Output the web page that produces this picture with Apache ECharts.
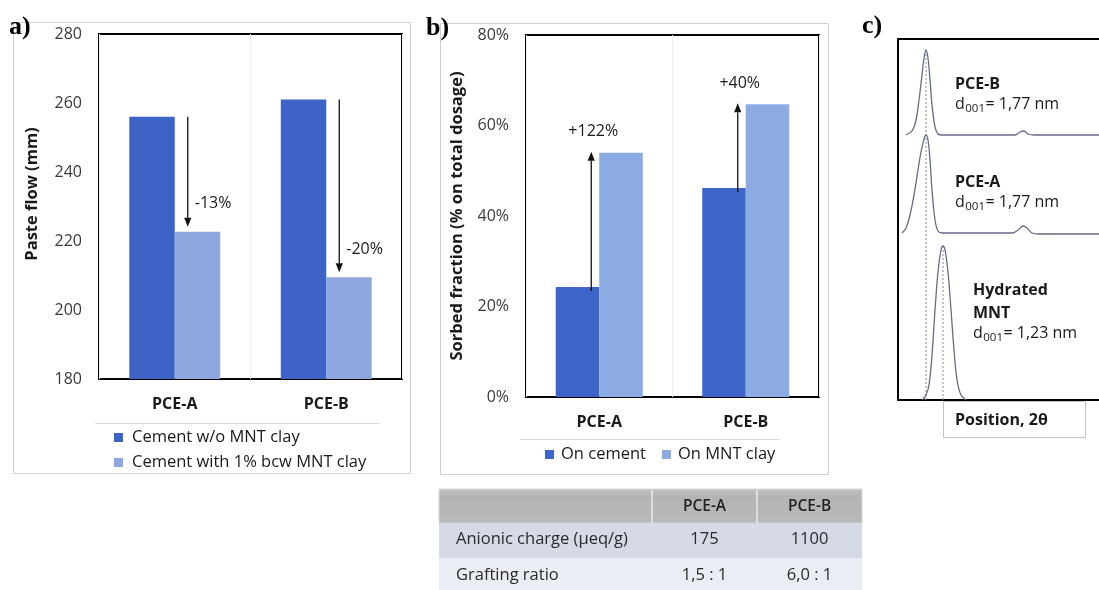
<!DOCTYPE html>
<html>
<head>
<meta charset="utf-8">
<script src="https://cdn.jsdelivr.net/npm/echarts@6/dist/echarts.min.js"></script>
<style>
  html, body { margin: 0; padding: 0; background: #fff; }
  #chart { width: 1099px; height: 590px; }
</style>
</head>
<body>
<div id="chart"></div>
<script>
// ---------- data ----------
const categories = ['PCE-A', 'PCE-B'];

// a) paste flow, mm
const flowTickLabels = [180, 200, 220, 240, 260, 280];
const flowWithoutClay = [256, 261];
const flowWithClay = [222.7, 209.5];

// b) sorbed fraction, % of total dosage
const sorbedTickLabels = [0, 20, 40, 60, 80];
const sorbedOnCement = [24.3, 46.2];
const sorbedOnClay = [54.0, 64.7];

// polymer properties table
const tableColumns = ['', 'PCE-A', 'PCE-B'];
const tableRowLabels = ['Anionic charge (µeq/g)', 'Grafting ratio'];
const anionicCharge = ['175', '1100'];
const graftingRatio = ['1,5 : 1', '6,0 : 1'];

// c) XRD patterns (position, intensity), stacked traces
const xrdPceB = [[8, 265], [14, 269], [18, 280], [21, 300], [24, 325], [26, 342], [28, 350], [30, 342],
  [32, 320], [34, 295], [37, 273], [40, 266], [44, 265], [117, 265], [122, 268], [126, 269], [130, 266],
  [136, 265], [225, 265]];
const xrdPceA = [[4, 167], [8, 172], [12, 185], [16, 205], [20, 230], [23, 248], [26, 261], [28, 265],
  [30, 260], [32, 240], [34, 210], [37, 180], [40, 169], [44, 167], [114, 167], [120, 170], [125, 174],
  [129, 172], [134, 167], [140, 166], [225, 166]];
const xrdMnt = [[24, 0], [28, 5], [31, 15], [34, 45], [37, 90], [40, 128], [43, 150], [45, 154], [47, 150],
  [50, 128], [53, 90], [56, 50], [59, 20], [63, 5], [68, 0]];
const xrdPeakPce = 28;
const xrdPeakMnt = 45;
const xrdSamples = [['PCE-B'], ['PCE-A'], ['Hydrated', 'MNT']];
const xrdD001 = ['1,77', '1,77', '1,23'];

// ---------- styling ----------
const FONT = '"Open Sans", Lato, sans-serif';
const SERIF = '"Liberation Serif", "DejaVu Serif", serif';
const INK = '#1a1a1a';
const TICK = '#3a3a3a';
const DARK_A = '#3e63c6';
const LIGHT_A = '#8fa6df';
const DARK_B = '#3d64c8';
const LIGHT_B = '#8dabe3';
const FRAME = '#cfcfcf';

const chart = echarts.init(document.getElementById('chart'), null, { renderer: 'canvas' });

// arrow from one bar top to the neighbouring bar top, labelled with the relative change
function changeArrow(o) {
  return function (params, api) {
    const cat = api.value(0);
    const from = api.value(1);
    const to = api.value(2);
    const p0 = api.coord([cat, from]);
    const p1 = api.coord([cat, to]);
    const x = p0[0] + o.dx;
    const dir = p1[1] > p0[1] ? 1 : -1;
    const y0 = p0[1] - dir * o.startPad;
    const tip = p1[1] - dir * o.endPad;
    const head = 9, half = 3.6;
    const pct = Math.round((to / from - 1) * 100);
    const text = (pct > 0 ? '+' : '-') + Math.abs(pct) + '%';
    return {
      type: 'group',
      children: [
        { type: 'line', shape: { x1: x, y1: y0, x2: x, y2: tip - dir * head },
          style: { stroke: '#111', lineWidth: 1.3 } },
        { type: 'polygon', shape: { points: [[x - half, tip - dir * head], [x + half, tip - dir * head], [x, tip]] },
          style: { fill: '#111' } },
        { type: 'text', x: x + o.labelDx, y: tip + o.labelDy,
          style: { text: text, fill: INK, font: '16px ' + FONT, align: o.align, verticalAlign: 'middle' } }
      ]
    };
  };
}

function tickAxis(ticks, fmt, gridIndex, nameText, nameGap) {
  return {
    type: 'value', gridIndex: gridIndex,
    min: ticks[0], max: ticks[ticks.length - 1], interval: ticks[1] - ticks[0],
    axisLine: { show: false }, axisTick: { show: false }, splitLine: { show: false },
    axisLabel: { color: TICK, fontFamily: FONT, fontSize: 16, margin: 17, formatter: fmt },
    name: nameText, nameLocation: 'middle', nameGap: nameGap,
    nameTextStyle: { color: INK, fontFamily: FONT, fontSize: 16.5, fontWeight: 'bold' }
  };
}

function catAxis(gridIndex) {
  return {
    type: 'category', gridIndex: gridIndex, data: categories,
    axisLine: { show: false }, axisTick: { show: false },
    splitLine: { show: true, interval: 0, lineStyle: { color: '#efefef', width: 1 } },
    axisLabel: { color: INK, fontFamily: FONT, fontSize: 16, fontWeight: 'bold', margin: 17 }
  };
}

// ---------- table graphics ----------
const tableX = [439, 652, 757, 862];
const tableY = [489, 523, 558, 594];
const tableBody = [[tableRowLabels[0]].concat(anionicCharge), [tableRowLabels[1]].concat(graftingRatio)];
const tableGraphics = [];
tableGraphics.push({
  type: 'rect', shape: { x: tableX[0], y: tableY[0], width: tableX[3] - tableX[0], height: tableY[1] - tableY[0] },
  style: { fill: new echarts.graphic.LinearGradient(0, 0, 0, 1, [
    { offset: 0, color: '#c4c4c4' }, { offset: 0.2, color: '#b4b4b4' }, { offset: 1, color: '#b9b9b9' }]),
    stroke: '#d8d8d8', lineWidth: 1 }
});
[1, 2].forEach(function (c) {
  tableGraphics.push({ type: 'line', shape: { x1: tableX[c], y1: tableY[0] + 1, x2: tableX[c], y2: tableY[1] },
    style: { stroke: '#eaeaea', lineWidth: 1.5 } });
});
['#d5dae6', '#eaedf3'].forEach(function (fill, r) {
  tableGraphics.push({ type: 'rect',
    shape: { x: tableX[0], y: tableY[r + 1], width: tableX[3] - tableX[0], height: tableY[r + 2] - tableY[r + 1] },
    style: { fill: fill } });
});
tableColumns.forEach(function (t, c) {
  if (!t) return;
  tableGraphics.push({ type: 'text', x: (tableX[c] + tableX[c + 1]) / 2, y: (tableY[0] + tableY[1]) / 2 + 1,
    style: { text: t, fill: '#222', font: '600 15.5px ' + FONT, align: 'center', verticalAlign: 'middle' } });
});
tableBody.forEach(function (row, r) {
  row.forEach(function (t, c) {
    const cy = (tableY[r + 1] + tableY[r + 2]) / 2 - 1;
    tableGraphics.push({ type: 'text',
      x: c === 0 ? tableX[0] + 17 : (tableX[c] + tableX[c + 1]) / 2, y: cy,
      style: { text: t, fill: '#2a2a2a', font: '16.5px ' + FONT, align: c === 0 ? 'left' : 'center', verticalAlign: 'middle' } });
  });
});

// ---------- XRD labels with subscripts ----------
const measureCtx = document.createElement('canvas').getContext('2d');
function textWidth(t, font) { measureCtx.font = font; return measureCtx.measureText(t).width; }
const xrdLabelPos = [[955, 84], [955, 182], [973, 290]];
const xrdGraphics = [];
xrdSamples.forEach(function (lines, i) {
  const x = xrdLabelPos[i][0];
  let y = xrdLabelPos[i][1];
  lines.forEach(function (line) {
    xrdGraphics.push({ type: 'text', x: x, y: y,
      style: { text: line, fill: INK, font: 'bold 16px ' + FONT, verticalAlign: 'middle' } });
    y += 23;
  });
  y -= 3;
  const fMain = '16px ' + FONT, fSub = '11.5px ' + FONT;
  const wd = textWidth('d', fMain), ws = textWidth('001', fSub);
  xrdGraphics.push({ type: 'text', x: x, y: y, style: { text: 'd', fill: INK, font: fMain, verticalAlign: 'middle' } });
  xrdGraphics.push({ type: 'text', x: x + wd + 0.5, y: y + 5, style: { text: '001', fill: INK, font: fSub, verticalAlign: 'middle' } });
  xrdGraphics.push({ type: 'text', x: x + wd + ws + 1, y: y,
    style: { text: '= ' + xrdD001[i] + ' nm', fill: INK, font: fMain, verticalAlign: 'middle' } });
});

const xrdLine = function (data) {
  return { type: 'line', xAxisIndex: 2, yAxisIndex: 2, data: data, smooth: 0.35, showSymbol: false,
    symbol: 'none', lineStyle: { color: '#666b86', width: 1.3 }, silent: true };
};
const guideLine = function (x, top) {
  return { type: 'line', xAxisIndex: 2, yAxisIndex: 2, data: [[x, 0], [x, top]], symbol: 'none',
    lineStyle: { color: '#8a8a8a', width: 1, type: [2, 2] }, silent: true, z: 1 };
};
const frameLine = { show: true, lineStyle: { color: '#000', width: 2 } };

const option = {
  animation: false,
  backgroundColor: '#fff',
  textStyle: { fontFamily: FONT },
  grid: [
    { left: 99, top: 34, width: 303, height: 345, show: true, borderColor: '#000', borderWidth: 2, backgroundColor: 'transparent' },
    { left: 526, top: 35, width: 293, height: 362, show: true, borderColor: '#000', borderWidth: 2, backgroundColor: 'transparent' },
    // panel c runs off the right edge, so only its left, top and bottom edges are drawn
    { left: 898, top: 39, width: 201, height: 361, show: false }
  ],
  xAxis: [
    catAxis(0),
    catAxis(1),
    { type: 'value', gridIndex: 2, min: 0, max: 201, position: 'bottom', axisLine: frameLine,
      axisTick: { show: false }, axisLabel: { show: false }, splitLine: { show: false } },
    { type: 'value', gridIndex: 2, min: 0, max: 201, position: 'top', axisLine: frameLine,
      axisTick: { show: false }, axisLabel: { show: false }, splitLine: { show: false } }
  ],
  yAxis: [
    tickAxis(flowTickLabels, '{value}', 0, '', 58),
    tickAxis(sorbedTickLabels, '{value}%', 1, 'Sorbed fraction (% on total dosage)', 60),
    { type: 'value', gridIndex: 2, min: 0, max: 361, position: 'left', axisLine: frameLine,
      axisTick: { show: false }, axisLabel: { show: false }, splitLine: { show: false } }
  ],
  legend: [
    { orient: 'vertical', left: 109, top: 424, itemWidth: 9, itemHeight: 9, itemGap: 8, icon: 'rect',
      textStyle: { color: INK, fontFamily: FONT, fontSize: 16.5, lineHeight: 17, padding: [0, 0, 0, 4] },
      data: ['Cement w/o MNT clay', 'Cement with 1% bcw MNT clay'] },
    { orient: 'horizontal', left: 540, top: 441, itemWidth: 9, itemHeight: 9, itemGap: 16, icon: 'rect',
      textStyle: { color: INK, fontFamily: FONT, fontSize: 16.5, lineHeight: 17, padding: [0, 0, 0, 2] },
      data: ['On cement', 'On MNT clay'] }
  ],
  series: [
    { name: 'Cement w/o MNT clay', type: 'bar', xAxisIndex: 0, yAxisIndex: 0, data: flowWithoutClay,
      barWidth: '30%', barGap: '0%', itemStyle: { color: DARK_A } },
    { name: 'Cement with 1% bcw MNT clay', type: 'bar', xAxisIndex: 0, yAxisIndex: 0, data: flowWithClay,
      barWidth: '30%', barGap: '0%', itemStyle: { color: LIGHT_A } },
    { type: 'custom', xAxisIndex: 0, yAxisIndex: 0, z: 5,
      data: categories.map(function (c, i) { return [i, flowWithoutClay[i], flowWithClay[i]]; }),
      encode: { x: 0, y: [1, 2] },
      renderItem: changeArrow({ dx: 13, startPad: 0, endPad: 5, labelDx: 7, labelDy: -23, align: 'left' }) },
    { name: 'On cement', type: 'bar', xAxisIndex: 1, yAxisIndex: 1, data: sorbedOnCement,
      barWidth: '29.7%', barGap: '0%', itemStyle: { color: DARK_B } },
    { name: 'On MNT clay', type: 'bar', xAxisIndex: 1, yAxisIndex: 1, data: sorbedOnClay,
      barWidth: '29.7%', barGap: '0%', itemStyle: { color: LIGHT_B } },
    { type: 'custom', xAxisIndex: 1, yAxisIndex: 1, z: 5,
      data: categories.map(function (c, i) { return [i, sorbedOnCement[i], sorbedOnClay[i]]; }),
      encode: { x: 0, y: [1, 2] },
      renderItem: changeArrow({ dx: -8, startPad: 4, endPad: -1, labelDx: 2, labelDy: -20, align: 'center' }) },
    guideLine(xrdPeakPce, 350),
    guideLine(xrdPeakMnt, 154),
    xrdLine(xrdPceB),
    xrdLine(xrdPceA),
    xrdLine(xrdMnt)
  ],
  graphic: [
    // panel frames
    { type: 'rect', shape: { x: 13.5, y: 22.5, width: 397, height: 451 }, style: { fill: null, stroke: FRAME, lineWidth: 1 }, z: -1 },
    { type: 'rect', shape: { x: 440.5, y: 23.5, width: 388, height: 451 }, style: { fill: null, stroke: FRAME, lineWidth: 1 }, z: -1 },
    // y-axis title of panel a
    { type: 'text', x: 32, y: 194, rotation: Math.PI / 2,
      style: { text: 'Paste flow (mm)', fill: INK, font: 'bold 16.5px ' + FONT, align: 'center', verticalAlign: 'middle' } },
    // legend separators
    { type: 'line', shape: { x1: 95, y1: 423.5, x2: 380, y2: 423.5 }, style: { stroke: '#dcdcdc', lineWidth: 1 } },
    { type: 'line', shape: { x1: 520, y1: 439.5, x2: 780, y2: 439.5 }, style: { stroke: '#dcdcdc', lineWidth: 1 } },
    // panel letters
    { type: 'text', x: 9, y: 27, z: 10, style: { text: 'a)', fill: '#000', font: 'bold 26px ' + SERIF, verticalAlign: 'middle' } },
    { type: 'text', x: 426, y: 28, z: 10, style: { text: 'b)', fill: '#000', font: 'bold 26px ' + SERIF, verticalAlign: 'middle' } },
    { type: 'text', x: 862, y: 26, z: 10, style: { text: 'c)', fill: '#000', font: 'bold 26px ' + SERIF, verticalAlign: 'middle' } },
    // XRD axis caption box
    { type: 'rect', shape: { x: 943.5, y: 401.5, width: 142, height: 36 }, style: { fill: '#fff', stroke: '#c4c4c4', lineWidth: 1 } },
    { type: 'text', x: 955, y: 420, style: { text: 'Position, 2θ', fill: INK, font: 'bold 16px ' + FONT, verticalAlign: 'middle' } }
  ].concat(tableGraphics).concat(xrdGraphics)
};

chart.setOption(option);
</script>
</body>
</html>
